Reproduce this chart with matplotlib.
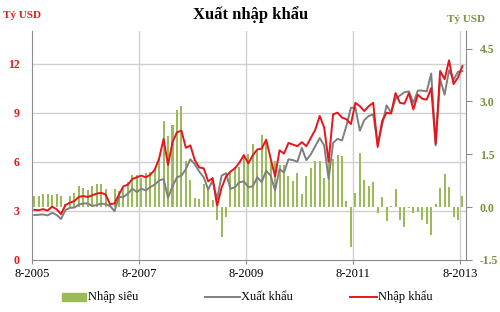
import numpy as np
import matplotlib
matplotlib.use('Agg')
import matplotlib.pyplot as plt
from matplotlib.transforms import blended_transform_factory
from matplotlib.patches import Rectangle
from matplotlib.lines import Line2D

plt.rcParams['font.family'] = ['Liberation Serif', 'DejaVu Serif']

# monthly data, 8-2005 .. 8-2013 (ty USD)
nhap_khau = [3.06, 3.04, 3.10, 3.02, 3.25, 3.10, 2.80, 3.35, 3.50, 3.60,
             3.85, 3.90, 3.85, 3.95, 4.05, 4.10, 4.00, 3.40, 3.45, 4.00,
             4.50, 4.60, 4.95, 5.05, 5.15, 5.05, 5.20, 5.50, 6.20, 7.40,
             5.80, 7.20, 7.80, 7.90, 6.85, 7.00, 6.10, 5.65, 5.60, 4.80,
             5.00, 3.30, 4.40, 5.10, 5.40, 5.60, 5.95, 6.40, 5.90, 6.40,
             6.75, 6.80, 7.35, 6.20, 5.10, 6.70, 6.50, 7.15, 7.05, 6.95,
             7.20, 6.95, 7.45, 7.95, 8.80, 8.10, 6.00, 8.90, 9.00, 8.70,
             8.60, 8.30, 9.60, 9.40, 9.10, 9.40, 9.60, 6.90, 8.50, 9.00,
             8.95, 10.20, 9.60, 9.55, 10.20, 9.20, 10.10, 9.85, 9.80, 10.50,
             7.10, 11.55, 11.05, 12.20, 10.75, 11.15, 11.85]
xuat_khau = [2.74, 2.76, 2.78, 2.72, 2.88, 2.75, 2.50, 3.05, 3.18, 3.20,
             3.38, 3.45, 3.45, 3.30, 3.35, 3.45, 3.40, 3.30, 2.98, 3.85,
             3.85, 4.05, 4.35, 4.15, 4.35, 4.25, 4.45, 4.60, 4.85, 4.95,
             3.80, 4.50, 5.05, 5.15, 5.55, 6.15, 5.85, 5.40, 5.05, 4.30,
             4.85, 3.70, 5.15, 5.30, 4.35, 4.45, 4.75, 4.80, 4.45, 4.50,
             5.05, 4.75, 5.45, 5.15, 4.25, 5.55, 5.35, 6.15, 6.10, 6.00,
             6.85, 6.10, 6.45, 6.95, 7.45, 7.00, 4.95, 7.15, 7.40, 7.30,
             8.20, 9.30, 9.30, 7.90, 8.55, 8.80, 8.90, 7.05, 8.25, 9.45,
             9.00, 9.85, 10.05, 10.25, 10.30, 9.60, 10.35, 10.35, 10.30, 11.40,
             7.00, 11.05, 10.10, 11.60, 11.00, 11.50, 11.55]
nhap_sieu = [0.30, 0.30, 0.37, 0.37, 0.33, 0.37, 0.30, 0.10, 0.30, 0.40,
             0.61, 0.55, 0.48, 0.61, 0.66, 0.64, 0.50, 0.08, 0.50, 0.45,
             0.55, 0.70, 0.90, 0.90, 0.83, 0.96, 1.00, 1.10, 1.40, 2.45,
             2.02, 2.32, 2.76, 2.87, 1.30, 0.78, 0.26, 0.23, 0.64, 0.55,
             0.21, -0.36, -0.84, -0.27, 1.00, 1.15, 1.15, 1.45, 1.50, 1.80,
             1.60, 2.05, 1.85, 1.30, 1.30, 1.18, 1.18, 0.87, 0.73, 0.97,
             0.38, 0.87, 1.10, 1.30, 1.30, 0.82, 1.35, 1.37, 1.47, 1.45,
             0.16, -1.13, 0.40, 1.52, 0.78, 0.59, 0.71, -0.17, 0.29, -0.41,
             0.02, 0.52, -0.36, -0.57, -0.03, -0.17, -0.15, -0.36, -0.48, -0.79,
             0.10, 0.54, 0.95, 0.56, -0.27, -0.38, 0.32]
tick_pos = [0, 24, 48, 72, 96]
tick_labels = ['8-2005', '8-2007', '8-2009', '8-2011', '8-2013']

RED = '#e8151b'
GRAY = '#7f7f7f'
GREEN = '#9bbb59'
OLIVE = '#77933c'
GRID = '#d0d0d0'
SPINE = '#8c8c8c'

x = np.arange(len(nhap_khau)) + 0.5

fig = plt.figure(figsize=(5, 3.12), dpi=100)
ax1 = fig.add_axes([0.064, 0.167, 0.868, 0.734])
ax2 = ax1.twinx()
ax1.set_zorder(ax2.get_zorder() + 1)
ax1.patch.set_visible(False)

# grid drawn under the bars
trans = blended_transform_factory(ax2.transAxes, ax1.transData)
for yv in [3, 6, 9, 12]:
    ax2.plot([0, 1], [yv, yv], transform=trans, color=GRID, lw=1, zorder=0)
for xv in tick_pos[1:]:
    ax2.axvline(xv, color=GRID, lw=1, zorder=0)

ax2.bar(x, nhap_sieu, width=0.45, color=GREEN, zorder=2)
ax1.plot(x, xuat_khau, color=GRAY, lw=1.4)
ax1.plot(x, nhap_khau, color=RED, lw=1.4)

ax1.set_xlim(0, 97.3)
ax1.set_ylim(0, 14)
ax2.set_ylim(-1.5, 5.0)
ax1.set_yticks([0, 3, 6, 9, 12])
ax2.set_yticks([-1.5, 0, 1.5, 3.0, 4.5])
ax2.set_yticklabels(['-1.5', '0.0', '1.5', '3.0', '4.5'])
ax1.set_xticks(tick_pos)
ax1.set_xticklabels(tick_labels)

ax1.tick_params(axis='y', length=0, pad=9, labelsize=8.5, labelcolor=RED)
for t in ax1.get_yticklabels():
    t.set_fontweight('bold')
ax2.tick_params(axis='y', length=4, width=0.8, color=SPINE, pad=6,
                labelsize=8.5, labelcolor=OLIVE)
for t in ax2.get_yticklabels():
    t.set_fontweight('bold')
ax1.tick_params(axis='x', length=3, width=0.8, color=SPINE, pad=3, labelsize=9)

for s in ['top', 'right']:
    ax1.spines[s].set_visible(False)
for s in ['top', 'left', 'bottom']:
    ax2.spines[s].set_visible(False)
ax1.spines['left'].set_color(SPINE)
ax1.spines['bottom'].set_color(SPINE)
ax2.spines['right'].set_color(SPINE)

fig.text(0.502, 0.952, 'Xuất nhập khẩu', ha='center', va='center',
         fontsize=12, fontweight='bold')
fig.text(0.006, 0.95, 'Tỷ USD', ha='left', va='center', fontsize=8,
         fontweight='bold', color=RED)
fig.text(0.97, 0.937, 'Tỷ USD', ha='right', va='center', fontsize=8,
         fontweight='bold', color=OLIVE)

# legend along the bottom
ly = 1 - 297 / 312
fig.patches.append(Rectangle((62 / 500, ly - 0.012), 24 / 500, 0.024,
                             transform=fig.transFigure, color=GREEN))
fig.text(88 / 500, ly, 'Nhập siêu', va='center', fontsize=9)
fig.lines.append(Line2D([205 / 500, 240 / 500], [ly, ly],
                        transform=fig.transFigure, color=GRAY, lw=1.4))
fig.text(241 / 500, ly, 'Xuất khẩu', va='center', fontsize=9)
fig.lines.append(Line2D([350 / 500, 377 / 500], [ly, ly],
                        transform=fig.transFigure, color=RED, lw=1.4))
fig.text(378 / 500, ly, 'Nhập khẩu', va='center', fontsize=9)

fig.savefig('out.png', dpi=100)
